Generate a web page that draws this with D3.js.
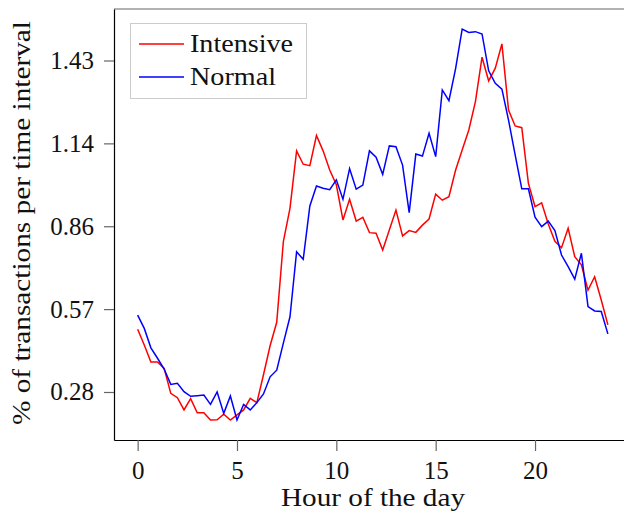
<!DOCTYPE html>
<html>
<head>
<meta charset="utf-8">
<script src="https://cdn.jsdelivr.net/npm/d3@7"></script>
<style>
  body { margin: 0; background: #fff; }
  text { font-family: "Liberation Serif", "DejaVu Serif", serif; fill: #111; }
</style>
</head>
<body>
<svg id="chart" width="624" height="512"></svg>
<script>
// data: share of transactions in each 20-minute slot of the day
const seriesNames = ["Intensive", "Normal"]
const seriesColors = ["#ff0000", "#0000ff"]

const intensive = [
    0.502, 0.448, 0.389, 0.389, 0.367, 0.281, 0.266, 0.224, 0.263, 0.214, 0.214, 0.189,
    0.190, 0.209, 0.189, 0.207, 0.224, 0.264, 0.249, 0.345, 0.445, 0.526, 0.804, 0.919,
    1.117, 1.071, 1.066, 1.170, 1.117, 1.051, 1.000, 0.879, 0.950, 0.875, 0.888, 0.835,
    0.833, 0.775, 0.844, 0.913, 0.824, 0.842, 0.836, 0.861, 0.882, 0.968, 0.947, 0.959,
    1.050, 1.120, 1.189, 1.287, 1.440, 1.358, 1.402, 1.486, 1.258, 1.203, 1.197, 1.005,
    0.925, 0.938, 0.865, 0.805, 0.783, 0.850, 0.752, 0.724, 0.637, 0.683, 0.603, 0.517
]
const normal = [
    0.551, 0.505, 0.438, 0.402, 0.365, 0.312, 0.316, 0.287, 0.271, 0.273, 0.275, 0.243,
    0.286, 0.212, 0.272, 0.189, 0.243, 0.224, 0.249, 0.279, 0.338, 0.361, 0.454, 0.545,
    0.769, 0.743, 0.927, 0.996, 0.988, 0.983, 1.017, 0.950, 1.056, 0.985, 0.999, 1.117,
    1.095, 1.036, 1.134, 1.131, 1.068, 0.904, 1.106, 1.099, 1.178, 1.097, 1.327, 1.290,
    1.400, 1.537, 1.525, 1.528, 1.520, 1.393, 1.350, 1.330, 1.223, 1.103, 0.986, 0.986,
    0.888, 0.856, 0.875, 0.842, 0.758, 0.718, 0.675, 0.764, 0.580, 0.565, 0.563, 0.486
]
// one slot every 20 minutes
const hours = d3.range(intensive.length).map(i => i / 3)

const xTicks = [0, 5, 10, 15, 20]
const yTicks = [2 / 7, 4 / 7, 6 / 7, 8 / 7, 10 / 7]
const yTickLabels = ["0.28", "0.57", "0.86", "1.14", "1.43"]

// layout
const plotLeft = 114, plotRight = 630, plotTop = 9, plotBottom = 440

const svg = d3.select("#chart")

const xScale = d3.scaleLinear().domain([-1.19, 24.78]).range([plotLeft, plotRight])
const yScale = d3.scaleLinear().domain([0.1202, 1.6061]).range([plotBottom, plotTop])

// frame
svg.append("line")
    .attr("x1", plotLeft).attr("x2", plotRight)
    .attr("y1", plotTop).attr("y2", plotTop)
    .attr("stroke", "#666").attr("stroke-width", 1.2)

// axes
const xAxis = d3.axisBottom(xScale).tickValues(xTicks).tickSize(11).tickPadding(10).tickSizeOuter(0)
const yAxis = d3.axisLeft(yScale).tickValues(yTicks).tickSize(10).tickPadding(10).tickSizeOuter(0)
    .tickFormat((d, i) => yTickLabels[i])

const gx = svg.append("g")
    .attr("transform", `translate(0, ${plotBottom})`)
    .call(xAxis)
const gy = svg.append("g")
    .attr("transform", `translate(${plotLeft}, 0)`)
    .call(yAxis)

for (const g of [gx, gy]) {
    g.select(".domain").attr("stroke", "#000").attr("stroke-width", 1.2)
    g.selectAll(".tick line").attr("stroke", "#666").attr("stroke-width", 1.2)
    g.selectAll(".tick text")
        .attr("font-family", "Liberation Serif")
        .attr("font-size", 25)
        .attr("fill", "#111")
}

// lines
const line = d3.line()
    .x((d, i) => xScale(hours[i]))
    .y(d => yScale(d))

const allSeries = [intensive, normal]
svg.selectAll(".data-line")
    .data(allSeries)
    .join("path")
    .attr("class", "data-line")
    .attr("d", line)
    .attr("fill", "none")
    .attr("stroke", (d, i) => seriesColors[i])
    .attr("stroke-width", 1.5)
    .attr("stroke-linejoin", "miter")

// axis titles (stretched a bit to the width of the original serif face)
svg.append("text")
    .attr("x", 373).attr("y", 506)
    .attr("text-anchor", "middle")
    .attr("font-size", 25)
    .attr("textLength", 184)
    .attr("lengthAdjust", "spacingAndGlyphs")
    .text("Hour of the day")

svg.append("text")
    .attr("transform", "translate(30, 223) rotate(-90)")
    .attr("text-anchor", "middle")
    .attr("font-size", 25)
    .attr("textLength", 404)
    .attr("lengthAdjust", "spacingAndGlyphs")
    .text("% of transactions per time interval")

// legend
const legendWidths = [103, 86]
const legend = svg.append("g")
legend.append("rect")
    .attr("x", 130.5).attr("y", 23.5)
    .attr("width", 176).attr("height", 75)
    .attr("fill", "#fff")
    .attr("stroke", "#ccc")

seriesNames.forEach((name, i) => {
    const y = 44 + i * 33
    legend.append("line")
        .attr("x1", 139).attr("x2", 184)
        .attr("y1", y).attr("y2", y)
        .attr("stroke", seriesColors[i])
        .attr("stroke-width", 1.5)
    legend.append("text")
        .attr("x", 190).attr("y", y + 8)
        .attr("font-size", 25)
        .attr("textLength", legendWidths[i])
        .attr("lengthAdjust", "spacingAndGlyphs")
        .text(name)
})
</script>
</body>
</html>
